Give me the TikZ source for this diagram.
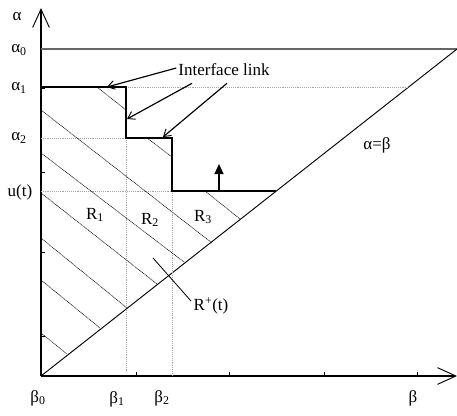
\documentclass[tikz,border=0pt]{standalone}
\usepackage{fontspec}
\setmainfont{Liberation Serif}
\usetikzlibrary{arrows.meta, calc}

\begin{document}
\begin{tikzpicture}[
    x=0.03cm, y=-0.03cm,
    every node/.style={font=\fontsize{14.5}{16}\selectfont, inner sep=0pt},
    axis/.style={line width=1.4pt,
        -{Straight Barb[length=5.5mm, width=5mm, line width=0.8pt]}},
    stair/.style={line width=1.4pt, line join=miter},
    guide/.style={gray!70, line width=0.6pt, dash pattern=on 0.8pt off 0.8pt},
    hatch/.style={black, line width=0.45pt, dash pattern=on 1pt off 0.5pt},
    ptr/.style={line width=1pt,
        -{Straight Barb[length=2mm, width=2.6mm, line width=0.8pt]}},
    tick/.style={line width=0.8pt},
]
\useasboundingbox (0,0) rectangle (457,415);

% ===== Axes =====
\coordinate (O) at (41,376);
\coordinate (ytop) at (41,8);
\coordinate (xend) at (457,376);
\draw[axis] (O) -- (ytop);
\draw[axis] (O) -- (xend);

\foreach \yy in {88,172,252,336}
    \draw[tick] (41,\yy) -- (45,\yy);
\foreach \xx in {136,229,324,417}
    \draw[tick] (\xx,376) -- (\xx,372);

% ===== alpha0 and alpha=beta =====
\coordinate (a0l) at (41,49);
\coordinate (a0r) at (457,49);
\draw[gray!80!black, line width=1.1pt] (a0l) -- (a0r);
\draw[line width=0.8pt] (O) -- (a0r);

% ===== Guides =====
\coordinate (s1) at (41,87);
\coordinate (s2) at (126,87);
\coordinate (s3) at (126,138);
\coordinate (s4) at (172,138);
\coordinate (s5) at (172,191);
\coordinate (s6) at (276,191);
\draw[guide] (s2) -- (409,87);
\draw[guide] (41,138) -- (s3);
\draw[guide] (41,191) -- (s5);
\draw[guide] (s3) -- (126,372);
\draw[guide] (s5) -- (172,376);

% ===== Hatching of R+(t) =====
\foreach \ax/\ay/\bx/\by in {97/87/126/110, 41/110/212/243, 147/138/172/157,
                   41/153/184/262, 205/191/240/219, 41/193/157/284,
                   41/238/127/308, 41/280/100/328, 41/333/67/354}
    \draw[hatch] (\ax,\ay) -- (\bx,\by);

% ===== Staircase =====
\draw[stair] (s1) -- (s2) -- (s3) -- (s4) -- (s5) -- (s6);

\coordinate (up0) at (219,191);
\coordinate (up1) at (219,164);
\draw[line width=1pt, -{Triangle[length=3mm, width=2.7mm]}] (up0) -- (up1);

% ===== Labels =====
\node (alpha) at (17,17) {α};
\node (al0) at (19,50) {α\textsubscript{0}};
\node (al1) at (19,88) {α\textsubscript{1}};
\node (al2) at (19,138) {α\textsubscript{2}};
\node (ut) at (20,192) {u(t)};
\node (b0) at (38,398) {β\textsubscript{0}};
\node (b1) at (117,399) {β\textsubscript{1}};
\node (b2) at (162,398) {β\textsubscript{2}};
\node (beta) at (413,398) {β};
\node (r1) at (95,215) {R\textsubscript{1}};
\node (r2) at (150,220) {R\textsubscript{2}};
\node (r3) at (203,217) {R\textsubscript{3}};
\node (diag) at (377,145) {α=β};

\node (link) at (224,70) {Interface link};
\coordinate (t1) at (107,87);
\coordinate (t2) at (127,119);
\coordinate (t3) at (163,137);
\draw[ptr] ($(link.west)+(-2,-2)$) -- (t1);
\draw[ptr] ($(link.south)+(-32,7)$) -- (t2);
\draw[ptr] ($(link.south)+(3,7)$) -- (t3);

\node (rplus) at (211,306) {R\textsuperscript{+}(t)};
\coordinate (rp0) at (153,258);
\draw[line width=0.7pt] (rp0) -- (191,301);

\end{tikzpicture}
\end{document}
